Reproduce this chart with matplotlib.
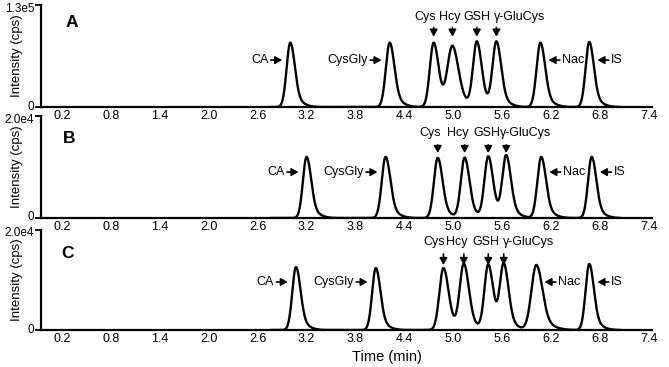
import numpy as np
import matplotlib
matplotlib.use('Agg')
import matplotlib.pyplot as plt
import matplotlib.transforms as mtransforms

plt.rcParams['font.family'] = ['Liberation Sans', 'DejaVu Sans']

# peak names (same order in every panel)
names = ['CA', 'CysGly', 'Cys', 'Hcy', 'GSH', 'γ-GluCys', 'Nac', 'IS']

# retention times (min)
rt_a = [3.00, 4.22, 4.76, 4.99, 5.29, 5.53, 6.07, 6.67]
rt_b = [3.20, 4.17, 4.81, 5.14, 5.43, 5.65, 6.08, 6.70]
rt_c = [3.07, 4.05, 4.88, 5.13, 5.43, 5.62, 6.02, 6.67]

# peak heights (cps)
ht_a = [8.2e4, 8.2e4, 8.2e4, 7.6e4, 8.2e4, 8.2e4, 8.2e4, 8.3e4]
ht_b = [1.20e4, 1.20e4, 1.18e4, 1.18e4, 1.20e4, 1.20e4, 1.20e4, 1.20e4]
ht_c = [1.26e4, 1.24e4, 1.24e4, 1.30e4, 1.30e4, 1.28e4, 1.30e4, 1.32e4]

# peak widths (sigma, min)
wd_a = [0.045, 0.047, 0.047, 0.06, 0.047, 0.047, 0.047, 0.045]
wd_b = [0.045, 0.047, 0.047, 0.047, 0.047, 0.047, 0.047, 0.045]
wd_c = [0.045, 0.045, 0.05, 0.05, 0.047, 0.047, 0.06, 0.045]

y_max = [1.3e5, 2.0e4, 2.0e4]
y_top_label = ['1.3e5', '2.0e4', '2.0e4']
panel_letters = ['A', 'B', 'C']
x_ticks = [0.2, 0.8, 1.4, 2.0, 2.6, 3.2, 3.8, 4.4, 5.0, 5.6, 6.2, 6.8, 7.4]


def peak(t, c, h, s):
    d = t - c
    left = np.exp(-0.5 * (d / s) ** 2)
    right = 0.85 * np.exp(-0.5 * (d / (s * 1.2)) ** 2) + 0.15 * np.exp(-0.5 * (d / (s * 2.6)) ** 2)
    return h * np.where(d < 0, left, right)


# axes boxes [left, bottom, width, height] in figure fractions
boxes = [[0.0613, 0.7084, 0.9133, 0.2779],
         [0.0613, 0.4060, 0.9133, 0.2779],
         [0.0613, 0.1008, 0.9133, 0.2725]]
# label layout per panel: top text y, arrow tail y, arrow tip y (axes fraction)
top_y = [(0.88, 0.78, 0.69), (0.833, 0.716, 0.637), (0.88, 0.76, 0.65)]
side_y = [0.46, 0.45, 0.48]
letter_pos = [(0.32, 0.83), (0.28, 0.78), (0.26, 0.77)]
px = 1 / 81.5  # one pixel in minutes
top_dx = [[-8 * px, -3 * px, 0, 23.5 * px],
          [-8 * px, -7 * px, -1 * px, 19 * px],
          [-9 * px, -7 * px, -2 * px, 25 * px]]

fig = plt.figure(figsize=(6.69, 3.67), dpi=100)
t = np.linspace(2.75, 7.05, 2000)
arrow = dict(arrowstyle='-|>,head_length=0.45,head_width=0.25', color='k', lw=1.2,
             shrinkA=0, shrinkB=0, mutation_scale=9)
nudge_up = mtransforms.ScaledTranslation(0, 2 / 100, fig.dpi_scale_trans)
nudge_down = mtransforms.ScaledTranslation(0, -2 / 100, fig.dpi_scale_trans)

for i, (rts, hts, wds) in enumerate([(rt_a, ht_a, wd_a), (rt_b, ht_b, wd_b), (rt_c, ht_c, wd_c)]):
    ax = fig.add_axes(boxes[i])
    ax.patch.set_visible(False)
    y = np.zeros_like(t)
    for c, h, s in zip(rts, hts, wds):
        y += peak(t, c, h, s)
    ax.plot(t, y, color='k', lw=1.7)

    ax.set_xlim(-0.06, 7.44)
    ax.set_ylim(0, y_max[i])
    ax.set_xticks(x_ticks)
    ax.set_xticklabels([f'{v:.1f}' for v in x_ticks])
    ax.set_yticks([0, y_max[i]])
    ax.set_yticklabels(['0', y_top_label[i]])
    ax.tick_params(axis='x', length=0, pad=2, labelsize=9)
    ax.tick_params(axis='y', length=4, width=1.3, pad=1, labelsize=8.5)
    ylabs = ax.get_yticklabels()
    ylabs[0].set_transform(ylabs[0].get_transform() + nudge_up)
    ylabs[1].set_transform(ylabs[1].get_transform() + nudge_down)
    for s in ['top', 'right']:
        ax.spines[s].set_visible(False)
    for s in ['left', 'bottom']:
        ax.spines[s].set_linewidth(1.6)
    ax.set_ylabel('Intensity (cps)', fontsize=9.5)
    ax.yaxis.set_label_coords(-0.029, 0.5)

    tr = ax.get_xaxis_transform()
    lx, ly = letter_pos[i]
    ax.text(lx, ly, panel_letters[i], transform=tr, fontsize=12.5,
            fontweight='bold', ha='center', va='center')

    # side labels: CA, CysGly on the left, Nac, IS on the right
    sy = side_y[i]
    for k in [0, 1]:
        tip = rts[k] - 0.10
        tail = tip - 0.14
        ax.annotate('', xy=(tip, sy), xytext=(tail, sy), xycoords=tr, textcoords=tr, arrowprops=arrow)
        ax.text(tail - 0.03, sy, names[k], transform=tr, fontsize=9, ha='right', va='center')
    for k in [6, 7]:
        tip = rts[k] + 0.10
        tail = tip + 0.14
        ax.annotate('', xy=(tip, sy), xytext=(tail, sy), xycoords=tr, textcoords=tr, arrowprops=arrow)
        ax.text(tail + 0.03, sy, names[k], transform=tr, fontsize=9, ha='left', va='center')

    # top labels with down arrows
    ty, tail_y, tip_y = top_y[i]
    for j, k in enumerate([2, 3, 4, 5]):
        ax.annotate('', xy=(rts[k], tip_y), xytext=(rts[k], tail_y), xycoords=tr, textcoords=tr,
                    arrowprops=arrow)
        ax.text(rts[k] + top_dx[i][j], ty, names[k], transform=tr, fontsize=9,
                ha='center', va='center')

fig.text(0.578, 0.027, 'Time (min)', fontsize=10.5, ha='center', va='center')

plt.savefig('out.png', dpi=100)
